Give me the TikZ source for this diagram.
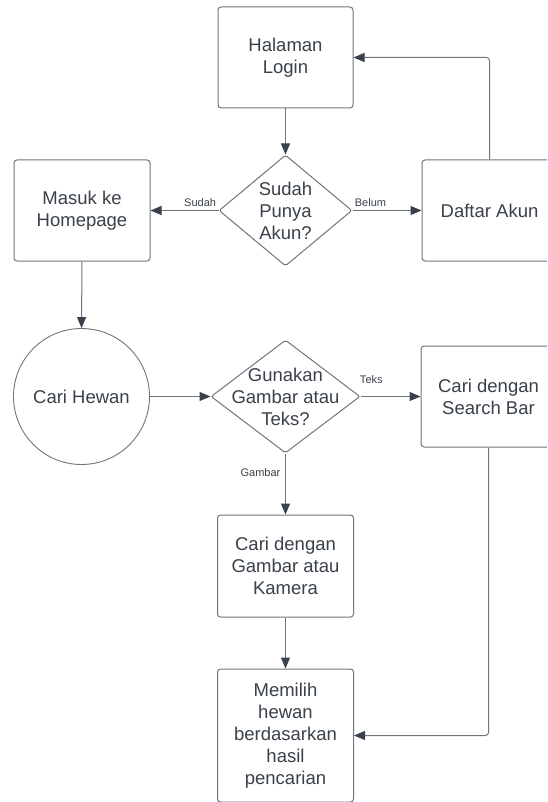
\documentclass[tikz,border=0pt]{standalone}
\usepackage{fontspec}
\setmainfont{Liberation Sans}
\usetikzlibrary{shapes.geometric,arrows.meta}
\definecolor{txt}{HTML}{3A414A}
\definecolor{edge}{HTML}{6F767F}
\definecolor{tipc}{HTML}{3A414A}
\begin{document}
\begin{tikzpicture}[x=1pt,y=-1pt,
  box/.style={draw=edge, line width=1pt, rounded corners=3pt, minimum width=135pt, minimum height=101pt,
    align=center, text=txt, font=\fontsize{18.5}{22}\selectfont, inner sep=0pt},
  dia/.style={diamond, draw=edge, line width=1pt, rounded corners=2pt, inner sep=0pt},
  diatext/.style={align=center, text=txt, font=\fontsize{18.5}{22}\selectfont, inner sep=0pt},
  circ/.style={circle, draw=edge, line width=0.9pt, minimum size=136pt, inner sep=0pt,
    align=center, text=txt, font=\fontsize{18.5}{22}\selectfont},
  arr/.style={draw=edge, line width=1pt, -{Triangle[length=11pt,width=9pt,color=tipc]}},
  lab/.style={text=txt, font=\fontsize{11}{13}\selectfont, inner sep=0pt}
]
\clip (0,0) rectangle (547,802);
\fill[white] (0,0) rectangle (547,802);

\node[box] (login) at (285.5,57.5) {Halaman\\Login};
\node[dia, minimum width=133pt, minimum height=111pt,
  label={[diatext]center:Sudah\\Punya\\Akun?}] (sudah) at (285.5,210.5) {};
\node[box] (daftar) at (489.5,210.5) {Daftar Akun};
\node[box, minimum width=136pt] (home) at (82,210.5) {Masuk ke\\Homepage};
\node[circ] (cari) at (81.5,396.5) {Cari Hewan};
\node[dia, minimum width=149pt, minimum height=113pt,
  label={[diatext]center:Gunakan\\Gambar atau\\Teks?}] (guna) at (285.5,396.5) {};
\node[box] (search) at (488.5,396.5) {Cari dengan\\Search Bar};
\node[box, minimum width=136pt, minimum height=102pt] (gambar) at (285.5,566) {Cari dengan\\Gambar atau\\Kamera};
\node[box, minimum width=136pt, minimum height=133pt] (memilih) at (285.5,735.5) {Memilih\\hewan\\berdasarkan\\hasil\\pencarian};

\draw[arr] (login) -- (sudah);
\draw[arr] (sudah) -- node[lab, pos=0.27, yshift=7.5pt] {Sudah} (home);
\draw[arr] (sudah) -- node[lab, pos=0.26, yshift=7.5pt] {Belum} (daftar);
\draw[arr, rounded corners=3pt] (daftar.north) |- (login.east);
\draw[arr] (home.south) -- (cari.north);
\draw[arr] (cari) -- (guna);
\draw[arr] (guna) -- node[lab, pos=0.18, yshift=16.5pt] {Teks} (search);
\draw[arr] (guna) -- node[lab, pos=0.31, xshift=-25pt] {Gambar} (gambar);
\draw[arr] (gambar) -- (memilih);
\draw[arr, rounded corners=3pt] (search.south) |- (memilih.east);
\end{tikzpicture}
\end{document}
